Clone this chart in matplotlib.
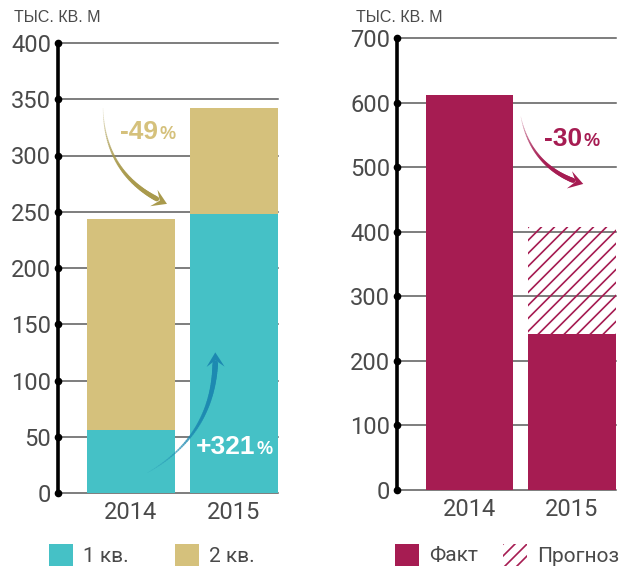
import numpy as np
import matplotlib
matplotlib.use("Agg")
import matplotlib.pyplot as plt
from matplotlib.collections import LineCollection
from matplotlib.patches import Polygon, Rectangle
from matplotlib.lines import Line2D

plt.rcParams['font.family'] = ['Roboto', 'DejaVu Sans']

# ---- data ----
years = ['2014', '2015']
q1 = [56, 248]          # 1 кв.
q2 = [188, 94]          # 2 кв. (stacked on top of q1)
fact = [611, 241]
forecast_top = [None, 407]
unit = 'ТЫС. КВ. М'

TEAL = '#45c1c6'
TAN = '#d5c17c'
OLIVE = '#a99a4c'
BLUE = '#1d89b1'
CRIMSON = '#a61c52'
GRID = '#5a5a5a'
TXT = '#4a4a4a'

W, H = 624, 566
fig = plt.figure(figsize=(W / 100, H / 100), dpi=100)


def fx(px):
    return px / W


def fy(py):
    return 1 - py / H


ax1 = fig.add_axes([fx(58), fy(493), (278 - 58) / W, (493 - 43) / H])
ax2 = fig.add_axes([fx(397), fy(490), (616 - 397) / W, (490 - 38) / H])

x = np.arange(len(years))
bw = 0.855


def style(ax, ticks, top):
    ax.set_xlim(-0.71, 1.43)
    ax.set_ylim(0, top)
    for v in ticks:
        ax.axhline(v, color=GRID, lw=1.1, zorder=0, clip_on=False)
    for s in ['top', 'right', 'bottom']:
        ax.spines[s].set_visible(False)
    ax.spines['left'].set_linewidth(2.6)
    ax.spines['left'].set_color('black')
    ax.spines['left'].set_zorder(4)
    ax.set_yticks(ticks)
    ax.set_yticklabels([str(t) for t in ticks], fontsize=17, color=TXT)
    ax.set_xticks(x)
    ax.set_xticklabels(years, fontsize=17, color=TXT)
    ax.tick_params(length=0, axis='y', pad=5)
    ax.tick_params(length=0, axis='x', pad=6)
    ax.plot(np.full(len(ticks), ax.get_xlim()[0]), ticks, 'o', ms=4.5,
            color='black', clip_on=False, zorder=6)


def curved_arrow(ax, p0, p1, rad, color, wmax, head=9):
    tr = ax.transData
    a = tr.transform(p0)
    b = tr.transform(p1)
    m = (a + b) / 2
    d = b - a
    c = np.array([m[0] + rad * d[1], m[1] - rad * d[0]])
    t = np.linspace(0, 1, 60)[:, None]
    pts = (1 - t) ** 2 * a + 2 * (1 - t) * t * c + t ** 2 * b
    tang = pts[-1] - pts[-2]
    tang /= np.hypot(*tang)
    perp = np.array([-tang[1], tang[0]])
    L = head * 1.6
    keep = np.hypot(*(pts - b).T) > L * 0.7
    p = pts[keep]
    segs = np.stack([p[:-1], p[1:]], axis=1)
    inv = tr.inverted()
    segs = inv.transform(segs.reshape(-1, 2)).reshape(-1, 2, 2)
    n = len(segs)
    rgba = np.tile(matplotlib.colors.to_rgba(color), (n, 1))
    rgba[:, 3] = np.linspace(0.05, 1, n) ** 0.6
    lc = LineCollection(segs, colors=rgba, linewidths=np.linspace(0.3, wmax, n),
                        capstyle='round', zorder=5)
    ax.add_collection(lc)
    tip = b
    back = b - L * tang
    notch = b - 0.55 * L * tang
    poly = np.array([tip, back + head * perp, notch, back - head * perp])
    ax.add_patch(Polygon(inv.transform(poly), closed=True, color=color,
                         lw=0, zorder=5))


def pct_label(ax, xy, main, color):
    t = ax.text(xy[0], xy[1], main, fontsize=19, fontweight='bold', color=color,
                family=['Liberation Sans', 'DejaVu Sans'], zorder=7)
    ax.annotate('%', xy=(1, 0), xycoords=t, xytext=(1, 3.5),
                textcoords='offset points', fontsize=13, fontweight='bold',
                color=color, family=['Liberation Sans', 'DejaVu Sans'], zorder=7)


# ---- left chart ----
style(ax1, list(range(0, 401, 50)), 400)
ax1.bar(x, q1, bw, color=TEAL, zorder=2)
ax1.bar(x, q2, bw, bottom=q1, color=TAN, zorder=2)
curved_arrow(ax1, (-0.272, 342), (0.35, 257), 0.32, OLIVE, 3.5)
curved_arrow(ax1, (0.16, 18), (0.82, 125), 0.3, BLUE, 4)
pct_label(ax1, (-0.11, 315), '-49', TAN)
pct_label(ax1, (0.63, 35), '+321', 'white')

# ---- right chart ----
style(ax2, list(range(0, 701, 100)), 700)
ax2.bar(x, fact, bw, color=CRIMSON, zorder=2)
fc_bottom = fact[1]
fc_height = forecast_top[1] - fact[1]
hb = ax2.bar(x[1], fc_height, bw, bottom=fc_bottom, facecolor='none',
             edgecolor='none', zorder=2)[0]


def hatch_rect(artist_ax, patch, x0, y0, x1, y1, step=13):
    h = y1 - y0
    inv = artist_ax.transData.inverted() if artist_ax is not None else None
    for off in np.arange(x0 - h, x1 + step, step):
        seg = np.array([[off, y0], [off + h, y1]])
        if inv is not None:
            seg = inv.transform(seg)
            ln = Line2D(seg[:, 0], seg[:, 1], color=CRIMSON, lw=1.2, zorder=3)
            artist_ax.add_line(ln)
        else:
            ln = Line2D(seg[:, 0] / W, seg[:, 1] / H, color=CRIMSON, lw=1.2,
                        transform=fig.transFigure)
            fig.add_artist(ln)
        ln.set_clip_path(patch)


(bx0, by0) = ax2.transData.transform((x[1] - bw / 2, fc_bottom))
(bx1, by1) = ax2.transData.transform((x[1] + bw / 2, forecast_top[1]))
hatch_rect(ax2, hb, bx0, by0, bx1, by1)

curved_arrow(ax2, (0.50, 578), (1.11, 474), 0.3, CRIMSON, 3.5)
pct_label(ax2, (0.73, 533), '-30', CRIMSON)

# ---- headers ----
fig.text(fx(14), fy(18), unit, fontsize=11.5, color=TXT, va='center',
         family=['Liberation Sans', 'DejaVu Sans'])
fig.text(fx(356), fy(18), unit, fontsize=11.5, color=TXT, va='center',
         family=['Liberation Sans', 'DejaVu Sans'])

# ---- legends ----
def legend_box(px0, color, label, hatch=False):
    r = Rectangle((fx(px0), fy(566)), 24 / W, 22 / H, transform=fig.transFigure,
                  facecolor='none' if hatch else color, edgecolor='none')
    fig.add_artist(r)
    if hatch:
        hatch_rect(None, r, px0, 0, px0 + 24, 22, step=12)
    fig.text(fx(px0 + 34), fy(556), label, fontsize=15, color=TXT, va='center')


legend_box(49, TEAL, '1 кв.')
legend_box(175, TAN, '2 кв.')
legend_box(395, CRIMSON, 'Факт')
legend_box(503, CRIMSON, 'Прогноз', hatch=True)

fig.savefig('out.png', dpi=100)
